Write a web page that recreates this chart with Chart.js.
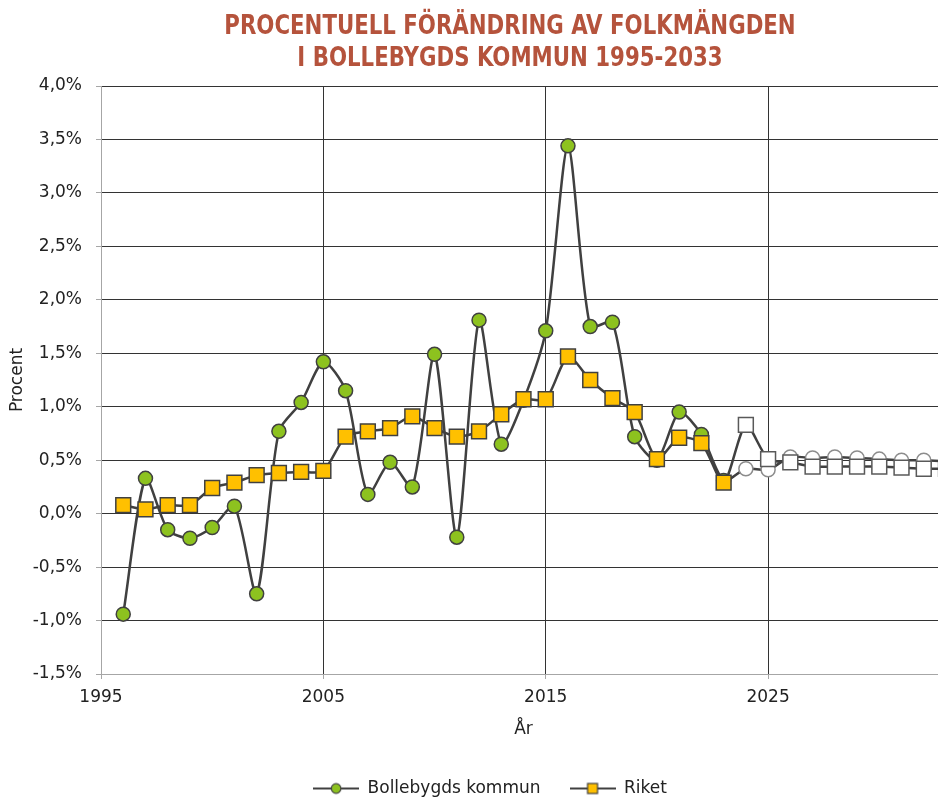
<!DOCTYPE html>
<html lang="sv">
<head>
<meta charset="utf-8">
<title>Procentuell förändring av folkmängden i Bollebygds kommun 1995-2033</title>
<script src="https://cdn.jsdelivr.net/npm/chart.js@4.4.1/dist/chart.umd.min.js"></script>
<style>
  html, body { margin: 0; padding: 0; background: #fff; overflow: hidden; }
  #wrap { position: relative; width: 938px; height: 800px; overflow: hidden; }
  #rubrik {
    position: absolute; top: 9px; left: 0; width: 1020px;
    text-align: center; color: #b5533c;
    font-family: "Liberation Sans Narrow", "DejaVu Sans Condensed", sans-serif;
    font-weight: bold; font-size: 26px; line-height: 32px;
    transform: scaleX(0.91); transform-origin: 510px 0;
  }
  #diagram { position: absolute; left: 0; top: 0; }
</style>
</head>
<body>
<div id="wrap">
  <canvas id="diagram" width="960" height="807"></canvas>
  <div id="rubrik">PROCENTUELL FÖRÄNDRING AV FOLKMÄNGDEN<br>I BOLLEBYGDS KOMMUN 1995-2033</div>
</div>
<script>
// Data (procent), utfall t.o.m. 2023, prognos 2024-2033
const ar = [1996, 1997, 1998, 1999, 2000, 2001, 2002, 2003, 2004, 2005,
            2006, 2007, 2008, 2009, 2010, 2011, 2012, 2013, 2014, 2015,
            2016, 2017, 2018, 2019, 2020, 2021, 2022, 2023, 2024, 2025,
            2026, 2027, 2028, 2029, 2030, 2031, 2032, 2033];
const bollebygd = [-0.94, 0.33, -0.15, -0.23, -0.13, 0.07, -0.75, 0.77, 1.04, 1.42,
                   1.15, 0.18, 0.48, 0.25, 1.49, -0.22, 1.81, 0.65, 1.06, 1.71,
                   3.44, 1.75, 1.79, 0.72, 0.50, 0.95, 0.74, 0.31, 0.42, 0.41,
                   0.53, 0.52, 0.53, 0.52, 0.51, 0.50, 0.50, 0.49];
const riket = [0.08, 0.04, 0.08, 0.08, 0.24, 0.29, 0.36, 0.38, 0.39, 0.40,
               0.72, 0.77, 0.80, 0.91, 0.80, 0.72, 0.77, 0.93, 1.07, 1.07,
               1.47, 1.25, 1.08, 0.95, 0.51, 0.71, 0.66, 0.29, 0.83, 0.51,
               0.48, 0.44, 0.44, 0.44, 0.44, 0.43, 0.42, 0.42];
const serieNamn = ['Bollebygds kommun', 'Riket'];
const sistaUtfall = 2023;
const xEtiketter = [1995, 2005, 2015, 2025];

const linjeFarg = '#404040';
const gridFarg = '#333333';
const axelFarg = '#a6a6a6';
const textFarg = '#222222';
const gron = '#8dc21f';
const gul = '#ffc000';
const typsnitt = { family: 'DejaVu Sans', size: 17 };

const punkter = serie => ar.map((a, i) => ({ x: a, y: serie[i] }));
const prognos = a => a > sistaUtfall;

// liten ikon för legenden: linje med markör i mitten
function legendIkon(form, fyll) {
    const c = document.createElement('canvas');
    c.width = 46; c.height = 16;
    const g = c.getContext('2d');
    g.strokeStyle = linjeFarg;
    g.lineWidth = 2;
    g.beginPath(); g.moveTo(0, 8); g.lineTo(46, 8); g.stroke();
    g.fillStyle = fyll;
    g.lineWidth = 1.2;
    if (form === 'circle') {
        g.beginPath(); g.arc(23, 8, 4.8, 0, Math.PI * 2); g.fill(); g.stroke();
    } else {
        g.fillRect(18, 3, 10, 10); g.strokeRect(18, 3, 10, 10);
    }
    return c;
}
const ikoner = [legendIkon('circle', gron), legendIkon('rect', gul)];

// flytta legenden lite åt höger, som i förlagan
const legendFlytt = {
    id: 'legendFlytt',
    afterLayout(chart) {
        chart.legend.left += 17;
        chart.legend.right += 17;
    }
};

const ctx = document.getElementById('diagram').getContext('2d');
new Chart(ctx, {
    type: 'line',
    plugins: [legendFlytt],
    data: {
        datasets: [{
            label: serieNamn[0],
            data: punkter(bollebygd),
            order: 2,
            borderColor: linjeFarg,
            borderWidth: 2.5,
            tension: 0.25,
            pointStyle: 'circle',
            pointRadius: 7,
            pointBorderWidth: 1.5,
            pointBackgroundColor: ar.map(a => prognos(a) ? '#ffffff' : gron),
            pointBorderColor: ar.map(a => prognos(a) ? '#8c8c8c' : linjeFarg)
        }, {
            label: serieNamn[1],
            data: punkter(riket),
            order: 1,
            borderColor: linjeFarg,
            borderWidth: 2.5,
            tension: 0.25,
            pointStyle: 'rect',
            pointRadius: 10.5,
            pointBorderWidth: 1.5,
            pointBackgroundColor: ar.map(a => prognos(a) ? '#ffffff' : gul),
            pointBorderColor: ar.map(a => prognos(a) ? '#595959' : linjeFarg)
        }]
    },
    options: {
        responsive: false,
        animation: false,
        layout: { padding: { top: 86, left: 0, right: 14, bottom: 0 } },
        plugins: {
            title: { display: false },
            tooltip: { enabled: false },
            legend: {
                position: 'bottom',
                labels: {
                    usePointStyle: true,
                    pointStyleWidth: 46,
                    padding: 29,
                    color: textFarg,
                    font: typsnitt,
                    generateLabels: chart => chart.data.datasets.map((ds, i) => ({
                        text: ds.label,
                        pointStyle: ikoner[i],
                        datasetIndex: i,
                        hidden: false,
                        lineWidth: 0,
                        fillStyle: 'transparent',
                        strokeStyle: 'transparent',
                        fontColor: textFarg
                    }))
                }
            }
        },
        scales: {
            x: {
                type: 'linear',
                min: 1995,
                max: 2033,
                afterBuildTicks: s => { s.ticks = xEtiketter.map(v => ({ value: v })); },
                afterFit: s => { s.height = 77; },
                grid: {
                    color: c => (c.tick && c.tick.value === 1995) ? axelFarg : gridFarg,
                    tickColor: axelFarg,
                    tickLength: 5,
                    lineWidth: 1
                },
                border: { color: axelFarg, width: 1 },
                ticks: {
                    color: textFarg, font: typsnitt, padding: 8, maxRotation: 0,
                    callback: v => String(v)
                },
                title: { display: true, text: 'År', color: textFarg, font: typsnitt, padding: { top: 0, bottom: 11 } }
            },
            y: {
                min: -1.5,
                max: 4,
                afterFit: s => { s.width = 101; },
                grid: {
                    color: c => (c.tick && c.tick.value === -1.5) ? axelFarg : gridFarg,
                    tickColor: axelFarg,
                    tickLength: 5,
                    lineWidth: 1
                },
                border: { color: axelFarg, width: 1 },
                ticks: {
                    stepSize: 0.5, color: textFarg, font: typsnitt, padding: 14,
                    callback: v => v.toFixed(1).replace('.', ',') + '%'
                },
                title: { display: true, text: 'Procent', color: textFarg, font: typsnitt, padding: { top: 7, bottom: 0 } }
            }
        }
    }
});
</script>
</body>
</html>
